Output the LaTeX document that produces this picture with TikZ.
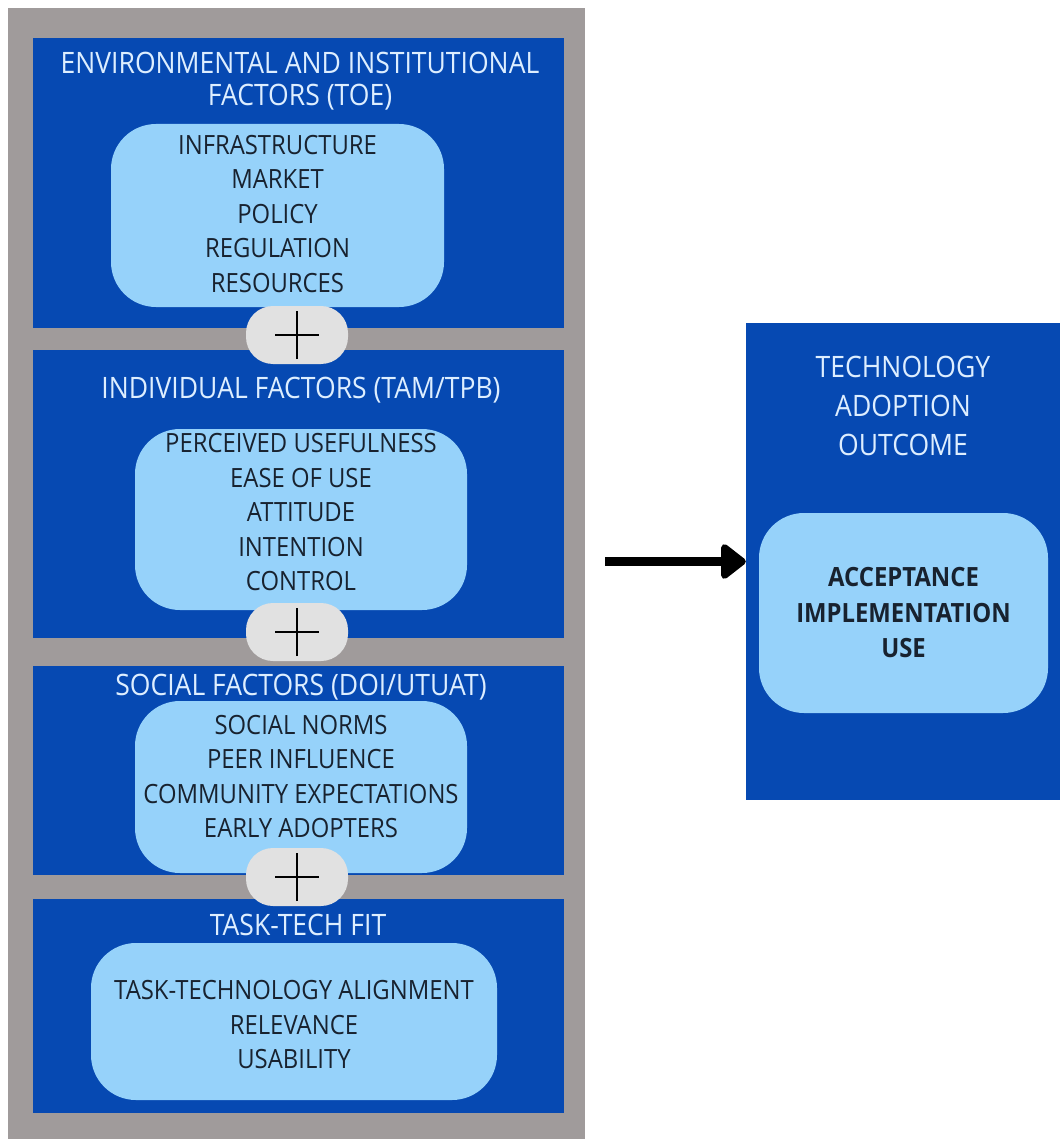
\documentclass[tikz,border=0pt]{standalone}
\usepackage{fontspec}
\usepackage{tikz}
\usepackage{xcolor}
\usetikzlibrary{arrows.meta}
\newfontfamily\diagfont{Open Sans}[FakeStretch=0.9]
\definecolor{frame-gray}{HTML}{A09B9B}
\definecolor{deep-blue}{HTML}{0649B2}
\definecolor{light-blue}{HTML}{96D2FA}
\definecolor{plus-gray}{HTML}{E1E1E1}
\definecolor{title-white}{HTML}{DDEEFF}
\definecolor{item-ink}{HTML}{18222F}
\tikzset{
    factor-box/.style = {fill=deep-blue, rectangle, inner sep=0pt, minimum width=531pt},
    item-box/.style = {fill=light-blue, rectangle, rounded corners=45pt, inner sep=0pt},
    box-title/.style = {text=title-white, align=center, anchor=base, font=\diagfont\fontsize{29.5}{32}\selectfont},
    item-list/.style = {text=item-ink, align=center, anchor=base, font=\diagfont\fontsize{26.5}{34.5}\selectfont},
    plus-box/.style = {fill=plus-gray, rectangle, rounded corners=27pt, minimum width=102pt, minimum height=58pt, inner sep=0pt},
    plus-line/.style = {draw=black, line width=2.5pt},
    flow-arrow/.style = {draw=black, line width=9pt, -{Triangle[length=27pt,width=40pt,round]}},
}
\begin{document}
\begin{tikzpicture}[x=1pt,y=-1pt]
\useasboundingbox (0,0) rectangle (1060,1139);
\fill[frame-gray] (8,8) rectangle (585,1139);

\node[factor-box, minimum height=290pt] (env) at (298.5,183) {};
\node[factor-box, minimum height=288pt] (ind) at (298.5,494) {};
\node[factor-box, minimum height=209pt] (soc) at (298.5,770.5) {};
\node[factor-box, minimum height=214pt] (ttf) at (298.5,1006) {};

\node[item-box, minimum width=333pt, minimum height=183pt] (env-box) at (277.5,215.5) {};
\node[item-box, minimum width=332pt, minimum height=181pt] (ind-box) at (301,519.5) {};
\node[item-box, minimum width=332pt, minimum height=172pt] (soc-box) at (301,787) {};
\node[item-box, minimum width=406pt, minimum height=157pt] (ttf-box) at (294,1021.5) {};

\node[box-title] (env-title) at (300,105.5) {ENVIRONMENTAL AND INSTITUTIONAL\\FACTORS (TOE)};
\node[box-title] (ind-title) at (301,398.5) {INDIVIDUAL FACTORS (TAM/TPB)};
\node[box-title] (soc-title) at (301,695.5) {SOCIAL FACTORS (DOI/UTUAT)};
\node[box-title] (ttf-title) at (298,935.5) {TASK-TECH FIT};

\node[item-list] (env-items) at (277.5,292.5) {INFRASTRUCTURE\\MARKET\\POLICY\\REGULATION\\RESOURCES};
\node[item-list] (ind-items) at (301,590.5) {PERCEIVED USEFULNESS\\EASE OF USE\\ATTITUDE\\INTENTION\\CONTROL};
\node[item-list] (soc-items) at (301,837.5) {SOCIAL NORMS\\PEER INFLUENCE\\COMMUNITY EXPECTATIONS\\EARLY ADOPTERS};
\node[item-list] (ttf-items) at (294,1068.5) {TASK-TECHNOLOGY ALIGNMENT\\RELEVANCE\\USABILITY};

\node[plus-box] (plus-a) at (297,335) {};
\node[plus-box] (plus-b) at (297,632) {};
\node[plus-box] (plus-c) at (297,877) {};
\foreach \p in {plus-a,plus-b,plus-c}{
    \draw[plus-line] ([xshift=-22pt]\p.center) -- ([xshift=22pt]\p.center);
    \draw[plus-line] ([yshift=-24pt]\p.center) -- ([yshift=24pt]\p.center);
}

\node[factor-box, minimum width=314pt, minimum height=477pt] (outcome) at (903,561.5) {};
\node[item-box, minimum width=289pt, minimum height=200pt] (outcome-box) at (903.5,613) {};
\node[box-title, font=\diagfont\fontsize{29.5}{39}\selectfont] (outcome-title) at (903,455.5) {TECHNOLOGY\\ADOPTION\\OUTCOME};
\node[item-list, font=\diagfont\bfseries\fontsize{26.5}{35.5}\selectfont] (outcome-items) at (903.5,657.5) {ACCEPTANCE\\IMPLEMENTATION\\USE};

\coordinate (arrow-start) at (605,561.5);
\draw[flow-arrow] (arrow-start) -- (outcome.west);
\end{tikzpicture}
\end{document}
